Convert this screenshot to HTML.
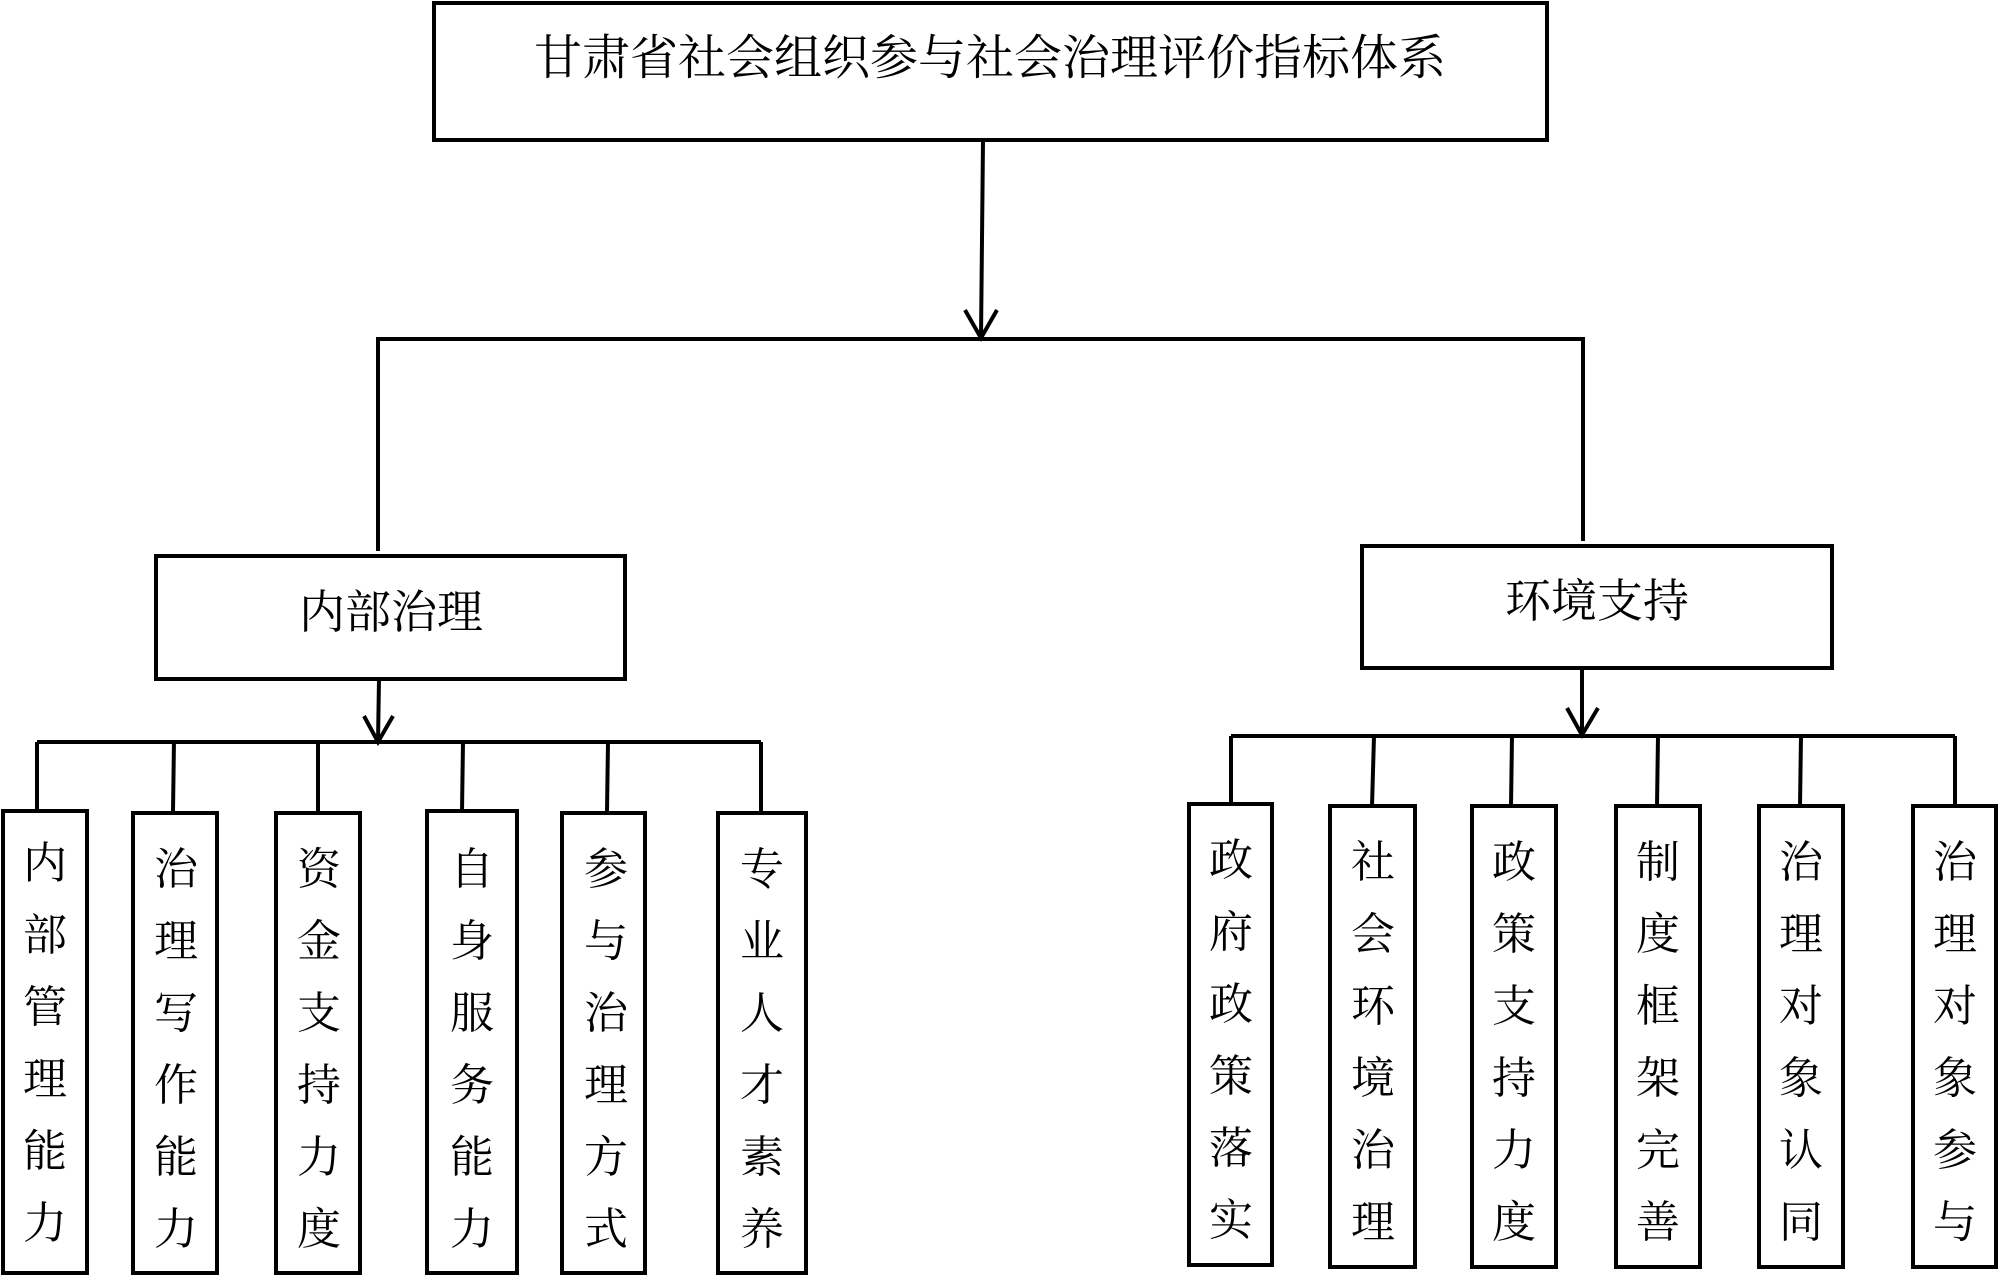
<!DOCTYPE html>
<html><head><meta charset="utf-8"><style>
html,body{margin:0;padding:0;background:#fff;}
svg text{font-family:"Liberation Serif","Noto Serif CJK SC","Noto Sans CJK SC",serif;fill:#000;}
</style></head><body>
<svg width="2000" height="1277" viewBox="0 0 2000 1277" xmlns="http://www.w3.org/2000/svg">
<g stroke="#000" stroke-width="4" fill="none">
<rect x="434" y="3" width="1113" height="137"/>
<line x1="983" y1="140" x2="981" y2="338"/>
<polyline points="965,310 981,338 997,310"/>
<polyline points="378,551 378,339 1583,339 1583,541"/>
<rect x="156" y="556" width="469" height="123"/>
<rect x="1362" y="546" width="470" height="122"/>
<line x1="379" y1="679" x2="378" y2="742"/>
<polyline points="364,716 378,742 393,716"/>
<line x1="1582" y1="668" x2="1582" y2="735"/>
<polyline points="1567,708 1582,735 1598,708"/>
<line x1="37" y1="742" x2="761" y2="742"/>
<line x1="37" y1="742" x2="37" y2="811"/>
<line x1="174" y1="740" x2="173" y2="811"/>
<line x1="318" y1="742" x2="318" y2="811"/>
<line x1="463" y1="742" x2="462" y2="811"/>
<line x1="608" y1="742" x2="607" y2="811"/>
<line x1="761" y1="742" x2="761" y2="811"/>
<rect x="3" y="811" width="84" height="462"/>
<rect x="133" y="813" width="84" height="460"/>
<rect x="276" y="813" width="84" height="460"/>
<rect x="427" y="811" width="90" height="462"/>
<rect x="562" y="813" width="83" height="460"/>
<rect x="718" y="813" width="88" height="460"/>
<line x1="1231" y1="736" x2="1955" y2="736"/>
<line x1="1231" y1="736" x2="1231" y2="804"/>
<line x1="1374" y1="736" x2="1372" y2="806"/>
<line x1="1512" y1="736" x2="1511" y2="806"/>
<line x1="1658" y1="736" x2="1657" y2="806"/>
<line x1="1801" y1="736" x2="1800" y2="806"/>
<line x1="1955" y1="736" x2="1955" y2="806"/>
<rect x="1189" y="804" width="83" height="461"/>
<rect x="1330" y="806" width="85" height="461"/>
<rect x="1472" y="806" width="84" height="461"/>
<rect x="1616" y="806" width="84" height="461"/>
<rect x="1759" y="806" width="84" height="461"/>
<rect x="1913" y="806" width="83" height="461"/>
</g>
<g font-size="48" text-anchor="middle">
<text x="990" y="74">甘肃省社会组织参与社会治理评价指标体系</text>
</g>
<g font-size="46" text-anchor="middle">
<text x="391" y="628">内部治理</text>
<text x="1597" y="617">环境支持</text>
</g>
<g font-size="44" text-anchor="middle">
<text x="45" y="878"><tspan x="45">内</tspan><tspan x="45" dy="72">部</tspan><tspan x="45" dy="72">管</tspan><tspan x="45" dy="72">理</tspan><tspan x="45" dy="72">能</tspan><tspan x="45" dy="72">力</tspan></text>
<text x="176" y="884"><tspan x="176">治</tspan><tspan x="176" dy="72">理</tspan><tspan x="176" dy="72">写</tspan><tspan x="176" dy="72">作</tspan><tspan x="176" dy="72">能</tspan><tspan x="176" dy="72">力</tspan></text>
<text x="319" y="884"><tspan x="319">资</tspan><tspan x="319" dy="72">金</tspan><tspan x="319" dy="72">支</tspan><tspan x="319" dy="72">持</tspan><tspan x="319" dy="72">力</tspan><tspan x="319" dy="72">度</tspan></text>
<text x="472" y="884"><tspan x="472">自</tspan><tspan x="472" dy="72">身</tspan><tspan x="472" dy="72">服</tspan><tspan x="472" dy="72">务</tspan><tspan x="472" dy="72">能</tspan><tspan x="472" dy="72">力</tspan></text>
<text x="606" y="884"><tspan x="606">参</tspan><tspan x="606" dy="72">与</tspan><tspan x="606" dy="72">治</tspan><tspan x="606" dy="72">理</tspan><tspan x="606" dy="72">方</tspan><tspan x="606" dy="72">式</tspan></text>
<text x="762" y="884"><tspan x="762">专</tspan><tspan x="762" dy="72">业</tspan><tspan x="762" dy="72">人</tspan><tspan x="762" dy="72">才</tspan><tspan x="762" dy="72">素</tspan><tspan x="762" dy="72">养</tspan></text>
<text x="1231" y="875"><tspan x="1231">政</tspan><tspan x="1231" dy="72">府</tspan><tspan x="1231" dy="72">政</tspan><tspan x="1231" dy="72">策</tspan><tspan x="1231" dy="72">落</tspan><tspan x="1231" dy="72">实</tspan></text>
<text x="1373" y="877"><tspan x="1373">社</tspan><tspan x="1373" dy="72">会</tspan><tspan x="1373" dy="72">环</tspan><tspan x="1373" dy="72">境</tspan><tspan x="1373" dy="72">治</tspan><tspan x="1373" dy="72">理</tspan></text>
<text x="1514" y="877"><tspan x="1514">政</tspan><tspan x="1514" dy="72">策</tspan><tspan x="1514" dy="72">支</tspan><tspan x="1514" dy="72">持</tspan><tspan x="1514" dy="72">力</tspan><tspan x="1514" dy="72">度</tspan></text>
<text x="1658" y="877"><tspan x="1658">制</tspan><tspan x="1658" dy="72">度</tspan><tspan x="1658" dy="72">框</tspan><tspan x="1658" dy="72">架</tspan><tspan x="1658" dy="72">完</tspan><tspan x="1658" dy="72">善</tspan></text>
<text x="1801" y="877"><tspan x="1801">治</tspan><tspan x="1801" dy="72">理</tspan><tspan x="1801" dy="72">对</tspan><tspan x="1801" dy="72">象</tspan><tspan x="1801" dy="72">认</tspan><tspan x="1801" dy="72">同</tspan></text>
<text x="1955" y="877"><tspan x="1955">治</tspan><tspan x="1955" dy="72">理</tspan><tspan x="1955" dy="72">对</tspan><tspan x="1955" dy="72">象</tspan><tspan x="1955" dy="72">参</tspan><tspan x="1955" dy="72">与</tspan></text>
</g>
</svg>
</body></html>
